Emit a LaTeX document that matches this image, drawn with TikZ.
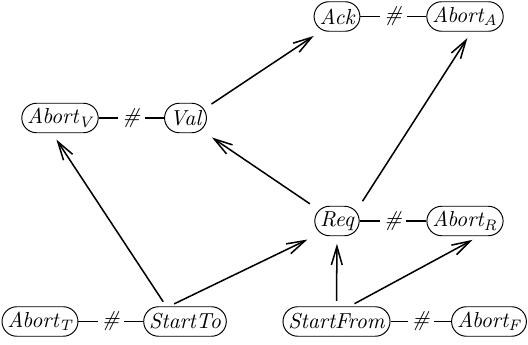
\documentclass[tikz,border=0pt]{standalone}
\usepackage{tikz}
\usetikzlibrary{arrows.meta, positioning}

\begin{document}
\begin{tikzpicture}[x=0.0162cm, y=-0.0162cm, >={Straight Barb[length=8.5pt, width=5pt]},
    estado/.style={draw, line width=0.45pt, rounded corners=6.8pt, minimum height=13.6pt, inner xsep=2.5pt, inner ysep=0pt, font=\itshape},
    flecha/.style={->, line width=0.7pt, shorten <=2.5pt, shorten >=3.5pt},
    conflicto/.style={line width=0.65pt},
    marca/.style={fill=white, inner sep=2pt, font=\itshape}]

    % Marco de la figura
    \useasboundingbox (0,0) rectangle (528,345);

    % --- ESTADOS ---
    \node[estado] (Ack) at (337,16.5) {Ack};
    \node[estado] (AbortA) at (465,16.5) {Abort\textsubscript{A}};
    \node[estado] (AbortV) at (60,118) {Abort\textsubscript{V}};
    \node[estado] (Val) at (185.5,118) {Val};
    \node[estado] (Req) at (337,221) {Req};
    \node[estado] (AbortR) at (465,221) {Abort\textsubscript{R}};
    \node[estado] (AbortT) at (40,321.5) {Abort\textsubscript{T}};
    \node[estado] (StartTo) at (185,321.5) {StartTo};
    \node[estado] (StartFrom) at (336.5,321.5) {StartFrom};
    \node[estado] (AbortF) at (489,321.5) {Abort\textsubscript{F}};

    % --- CONFLICTOS (#) ---
    \draw[conflicto] (Ack) -- node[marca] {\#} (AbortA);
    \draw[conflicto] (AbortV) -- node[marca] {\#} (Val);
    \draw[conflicto] (Req) -- node[marca] {\#} (AbortR);
    \draw[conflicto] (AbortT) -- node[marca] {\#} (StartTo);
    \draw[conflicto] (StartFrom) -- node[marca] {\#} (AbortF);

    % --- TRANSICIONES ---
    \draw[flecha] (Val.27) -- (Ack.222);
    \draw[flecha] (Req.148) -- (Val.323);
    \draw[flecha] (Req.34) -- (AbortA.293);
    \draw[flecha] (StartTo.141) -- (AbortV.243);
    \draw[flecha] (StartTo.136) -- (Req.south west);
    \draw[flecha] (StartFrom.north) -- (Req.south);
    \draw[flecha] (StartFrom.49) -- (AbortR.313);

\end{tikzpicture}
\end{document}
